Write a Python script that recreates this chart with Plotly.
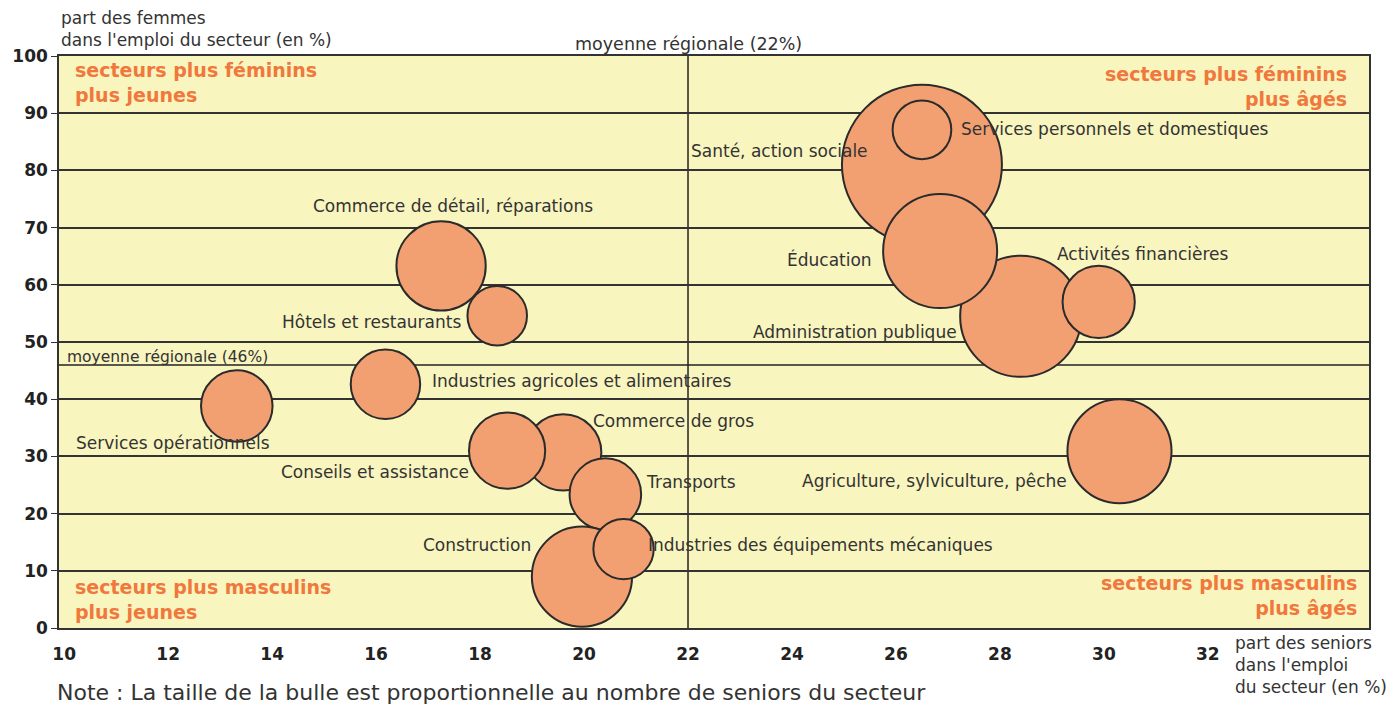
import plotly.graph_objects as go

# secteurs (ordre de tracé : les bulles suivantes passent au-dessus)
secteurs = [
    "Santé, action sociale",
    "Services personnels et domestiques",
    "Administration publique",
    "Éducation",
    "Activités financières",
    "Commerce de détail, réparations",
    "Hôtels et restaurants",
    "Industries agricoles et alimentaires",
    "Services opérationnels",
    "Commerce de gros",
    "Conseils et assistance",
    "Transports",
    "Construction",
    "Industries des équipements mécaniques",
    "Agriculture, sylviculture, pêche",
]
part_seniors = [26.5, 26.5, 28.4, 26.85, 29.9, 17.25, 18.33, 16.18, 13.32, 19.6, 18.52, 20.41, 19.96, 20.76, 30.3]
part_femmes = [81.0, 87.1, 54.5, 65.9, 57.0, 63.3, 54.6, 42.6, 38.8, 30.7, 31.0, 23.4, 9.0, 13.8, 30.9]
nb_seniors = [26000, 3500, 14900, 13200, 5300, 8100, 3600, 4900, 5200, 5900, 5900, 5200, 10200, 3700, 11000]

moy_seniors = 22
moy_femmes = 46

# placement des étiquettes : (ancre, décalage x px, décalage y px)
etiquettes = {
    "Santé, action sociale": ("right", -52, 14),
    "Services personnels et domestiques": ("left", 37, 1),
    "Administration publique": ("right", -62, -16),
    "Éducation": ("right", -66, -8),
    "Activités financières": ("left", -44, 48),
    "Commerce de détail, réparations": ("center", 12, 60),
    "Hôtels et restaurants": ("right", -34, -6),
    "Industries agricoles et alimentaires": ("left", 45, 3),
    "Services opérationnels": ("right", 35, -37),
    "Commerce de gros": ("left", 28, 31),
    "Conseils et assistance": ("right", -36, -21),
    "Transports": ("left", 39, 12),
    "Construction": ("right", -49, 32),
    "Industries des équipements mécaniques": ("left", 22, 4),
    "Agriculture, sylviculture, pêche": ("right", -50, -30),
}

police = "DejaVu Sans"
orange = "#F0783C"
gris = "#333333"

fig = go.Figure()
fig.add_trace(go.Scatter(
    x=part_seniors, y=part_femmes, mode="markers",
    marker=dict(size=nb_seniors, sizemode="area", sizeref=2 * max(nb_seniors) / 160 ** 2,
                color="#F2A072", opacity=1, line=dict(color="#2b2b2b", width=2)),
    hoverinfo="text", text=secteurs, showlegend=False,
))

for nom, xs, yf in zip(secteurs, part_seniors, part_femmes):
    ancre, dx, dy = etiquettes[nom]
    fig.add_annotation(x=xs, y=yf, text=nom, showarrow=False, xanchor=ancre,
                       yanchor="middle", xshift=dx, yshift=dy,
                       font=dict(family=police, size=17, color=gris))

# lignes des moyennes régionales
fig.add_shape(type="line", x0=moy_seniors, x1=moy_seniors, y0=0, y1=100,
              xref="x", yref="y", line=dict(color="#222222", width=1.5), layer="below")
fig.add_shape(type="line", x0=0, x1=1, y0=moy_femmes, y1=moy_femmes,
              xref="paper", yref="y", line=dict(color="#222222", width=1.5), layer="below")
fig.add_annotation(x=moy_seniors, y=100, text=f"moyenne régionale ({moy_seniors}%)",
                   showarrow=False, xanchor="center", yanchor="bottom", yshift=0,
                   font=dict(family=police, size=17.5, color=gris))
fig.add_annotation(x=0, y=moy_femmes, xref="paper", text=f"moyenne régionale ({moy_femmes}%)",
                   showarrow=False, xanchor="left", yanchor="bottom", xshift=6, yshift=-3,
                   font=dict(family=police, size=15.5, color=gris))

# quadrants
quadrants = [
    (0, 1, "left", "top", "secteurs plus féminins<br>plus jeunes", 14, -1),
    (1, 1, "right", "top", "secteurs plus féminins<br>plus âgés", -20, -5),
    (0, 0, "left", "bottom", "secteurs plus masculins<br>plus jeunes", 14, 3),
    (1, 0, "right", "bottom", "secteurs plus masculins<br>plus âgés", -10, 7),
]
for qx, qy, xa, ya, txt, dx, dy in quadrants:
    fig.add_annotation(x=qx, y=qy, xref="paper", yref="paper", text=txt, showarrow=False,
                       xanchor=xa, yanchor=ya, align=xa, xshift=dx, yshift=dy,
                       font=dict(family=police, size=19, color=orange, weight="bold"))

# titres des axes et note
fig.add_annotation(x=0, y=1, xref="paper", yref="paper",
                   text="part des femmes<br>dans l'emploi du secteur (en %)",
                   showarrow=False, xanchor="left", yanchor="bottom", align="left",
                   xshift=0, yshift=4,
                   font=dict(family=police, size=17, color=gris))
fig.add_annotation(x=1, y=0, xref="paper", yref="paper",
                   text="part des seniors<br>dans l'emploi<br>du secteur (en %)",
                   showarrow=False, xanchor="left", yanchor="top", align="left",
                   xshift=-136, yshift=-3,
                   font=dict(family=police, size=17, color=gris))
fig.add_annotation(x=0, y=0, xref="paper", yref="paper",
                   text="Note : La taille de la bulle est proportionnelle au nombre de seniors du secteur",
                   showarrow=False, xanchor="left", yanchor="top", align="left",
                   xshift=-4, yshift=-50,
                   font=dict(family=police, size=22, color=gris))

fig.update_layout(
    width=1390, height=704,
    margin=dict(l=59, r=21, t=56, b=76),
    paper_bgcolor="white", plot_bgcolor="#F9F5BF",
    font=dict(family=police, color="#222222"),
    xaxis=dict(range=[9.9, 35.1], tickvals=list(range(10, 34, 2)),
               tickfont=dict(size=17, weight="bold", color="#222222"),
               showgrid=False, zeroline=False, showline=True, mirror=True,
               linecolor=gris, linewidth=1.5, ticks="", ticklabelstandoff=10),
    yaxis=dict(range=[0, 100], dtick=10,
               tickfont=dict(size=17, weight="bold", color="#222222"),
               showgrid=True, gridcolor=gris, gridwidth=1.5, zeroline=False,
               showline=True, mirror=True, linecolor=gris, linewidth=1.5,
               ticks="outside", ticklen=6, tickcolor=gris),
)

fig.write_html("out.html", config={"displayModeBar": False},
               post_script="document.body.style.margin='0';")
